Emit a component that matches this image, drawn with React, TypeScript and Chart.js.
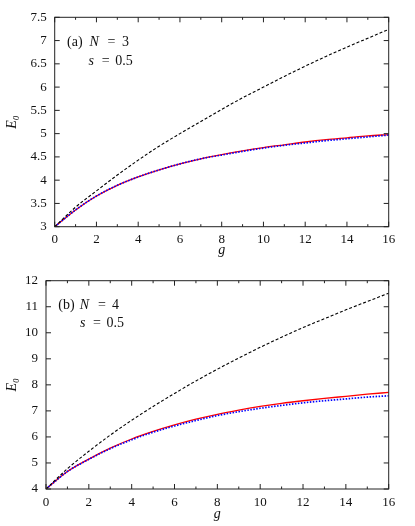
import React, { useEffect, useRef } from "react";
import { Chart, registerables } from "chart.js";

Chart.register(...registerables);

// ---------- data ----------
const gValues = [0, 1, 2, 3, 4, 5, 6, 7, 8, 9, 10, 11, 12, 13, 14, 15, 16];

// panel (a): N = 3, s = 0.5
const aBlack = [3, 3.42, 3.77, 4.11, 4.43, 4.73, 5.0, 5.26, 5.52, 5.77, 6.0, 6.23, 6.45, 6.66, 6.86, 7.05, 7.24];
const aRed = [3, 3.36, 3.66, 3.89, 4.07, 4.22, 4.35, 4.46, 4.55, 4.63, 4.7, 4.76, 4.82, 4.87, 4.91, 4.95, 4.98];
const aBlue = [3, 3.36, 3.66, 3.89, 4.07, 4.22, 4.35, 4.46, 4.54, 4.62, 4.69, 4.75, 4.8, 4.85, 4.89, 4.93, 4.97];

// panel (b): N = 4, s = 0.5
const bBlack = [4, 4.78, 5.45, 6.07, 6.64, 7.17, 7.67, 8.15, 8.6, 9.03, 9.44, 9.83, 10.2, 10.54, 10.88, 11.2, 11.52];
const bRed = [4, 4.67, 5.15, 5.57, 5.92, 6.21, 6.46, 6.68, 6.87, 7.03, 7.17, 7.29, 7.39, 7.48, 7.56, 7.64, 7.71];
const bBlue = [4, 4.67, 5.14, 5.55, 5.89, 6.18, 6.42, 6.63, 6.82, 6.97, 7.1, 7.21, 7.31, 7.39, 7.46, 7.53, 7.58];

const xMin = 0;
const xMax = 16;
const xStep = 2;

const aYMin = 3, aYMax = 7.5, aYStep = 0.5;
const bYMin = 4, bYMax = 12, bYStep = 1;

const FONT = "'Liberation Serif', 'DejaVu Serif', serif";

type Seg = { t: string; italic?: boolean; dx: number };
type AnnLine = { dy: number; segs: Seg[] };

const annA: AnnLine[] = [
  { dy: 28.7, segs: [{ t: "(a)", dx: 0 }, { t: "N", italic: true, dx: 22.6 }, { t: "=", dx: 40.5 }, { t: "3", dx: 55 }] },
  { dy: 47.5, segs: [{ t: "s", italic: true, dx: 21.6 }, { t: "=", dx: 34.8 }, { t: "0.5", dx: 48.3 }] },
];
const annB: AnnLine[] = [
  { dy: 28.2, segs: [{ t: "(b)", dx: 0 }, { t: "N", italic: true, dx: 21.5 }, { t: "=", dx: 39.6 }, { t: "4", dx: 53.8 }] },
  { dy: 46.2, segs: [{ t: "s", italic: true, dx: 21.6 }, { t: "=", dx: 34.8 }, { t: "0.5", dx: 48.3 }] },
];

const framePlugin = {
  id: "frame",
  afterDraw(chart: any, _args: any, opts: any) {
    const { ctx, chartArea: ca, scales } = chart;
    const xs = scales.x;
    const ys = scales.y;
    ctx.save();
    ctx.strokeStyle = "#222";
    ctx.lineWidth = 1;
    ctx.strokeRect(ca.left, ca.top, ca.width, ca.height);
    ctx.beginPath();
    for (let g = xs.min; g <= xs.max + 1e-9; g += 1) {
      const px = xs.getPixelForValue(g);
      const len = Math.round(g) % 2 === 0 ? 5 : 2.5;
      ctx.moveTo(px, ca.bottom);
      ctx.lineTo(px, ca.bottom - len);
      ctx.moveTo(px, ca.top);
      ctx.lineTo(px, ca.top + len);
    }
    for (const t of ys.ticks) {
      const py = ys.getPixelForValue(t.value);
      ctx.moveTo(ca.left, py);
      ctx.lineTo(ca.left + 5, py);
      ctx.moveTo(ca.right, py);
      ctx.lineTo(ca.right - 5, py);
    }
    ctx.stroke();

    // annotation text
    const lines: AnnLine[] = opts.lines || [];
    ctx.fillStyle = "#111";
    ctx.textBaseline = "alphabetic";
    ctx.textAlign = "left";
    const x0 = ca.left + 12.3;
    for (const line of lines) {
      for (const s of line.segs) {
        ctx.font = `${s.italic ? "italic " : ""}14px ${FONT}`;
        ctx.fillText(s.t, x0 + s.dx, ca.top + line.dy);
      }
    }
    ctx.restore();
  },
};

type Panel = {
  black: number[];
  red: number[];
  blue: number[];
  yMin: number;
  yMax: number;
  yStep: number;
  ann: AnnLine[];
  yWidth: number;
  xHeight: number;
  padTop: number;
  padRight: number;
  labelPad: number;
};

function toPoints(ys: number[]) {
  return gValues.map((g, i) => ({ x: g, y: ys[i] }));
}

const fmt = (v: any) => String(Math.round(Number(v) * 100) / 100);

function makeConfig(p: Panel): any {
  const common = {
    fill: false,
    pointRadius: 0,
    pointHoverRadius: 0,
    cubicInterpolationMode: "monotone",
  };
  return {
    type: "line",
    data: {
      datasets: [
        { ...common, label: "black", data: toPoints(p.black), borderColor: "#000", borderWidth: 1.1, borderDash: [3, 2] },
        { ...common, label: "blue", data: toPoints(p.blue), borderColor: "#0000ff", borderWidth: 1.7, borderDash: [1.5, 1.5] },
        { ...common, label: "red", data: toPoints(p.red), borderColor: "#ff0000", borderWidth: 1.3 },
      ],
    },
    options: {
      responsive: false,
      animation: false,
      events: [],
      layout: { padding: { top: p.padTop, right: p.padRight, left: 0, bottom: 0 } },
      plugins: {
        legend: { display: false },
        tooltip: { enabled: false },
        frame: { lines: p.ann },
      },
      scales: {
        x: {
          type: "linear",
          min: xMin,
          max: xMax,
          grid: { display: false, drawTicks: false },
          border: { display: false },
          ticks: {
            stepSize: xStep,
            color: "#111",
            font: { family: FONT, size: 13 },
            padding: p.labelPad,
            maxRotation: 0,
            autoSkip: false,
            callback: fmt,
          },
          title: {
            display: true,
            text: "g",
            color: "#111",
            font: { family: FONT, size: 14, style: "italic" },
            padding: { top: 2, bottom: 3 },
          },
          afterFit: (s: any) => {
            s.height = p.xHeight;
          },
        },
        y: {
          type: "linear",
          min: p.yMin,
          max: p.yMax,
          grid: { display: false, drawTicks: false },
          border: { display: false },
          ticks: {
            stepSize: p.yStep,
            color: "#111",
            font: { family: FONT, size: 13 },
            padding: 8,
            autoSkip: false,
            callback: fmt,
          },
          title: {
            display: true,
            text: "E₀",
            color: "#111",
            font: { family: FONT, size: 14, style: "italic" },
            padding: { top: 4, bottom: 4 },
          },
          afterFit: (s: any) => {
            s.width = p.yWidth;
          },
        },
      },
    },
    plugins: [framePlugin],
  };
}

const panelA: Panel = {
  black: aBlack, red: aRed, blue: aBlue,
  yMin: aYMin, yMax: aYMax, yStep: aYStep,
  ann: annA, yWidth: 54.7, xHeight: 35.3, padTop: 17.3, padRight: 26.3, labelPad: 5.5,
};
const panelB: Panel = {
  black: bBlack, red: bRed, blue: bBlue,
  yMin: bYMin, yMax: bYMax, yStep: bYStep,
  ann: annB, yWidth: 46, xHeight: 37, padTop: 18.7, padRight: 26.3, labelPad: 6,
};

function ChartPanel({ panel, top, height }: { panel: Panel; top: number; height: number }) {
  const ref = useRef<HTMLCanvasElement | null>(null);
  useEffect(() => {
    if (!ref.current) return;
    const chart = new Chart(ref.current, makeConfig(panel));
    return () => chart.destroy();
  }, [panel]);
  return (
    <canvas
      ref={ref}
      width={415}
      height={height}
      style={{ position: "absolute", left: 0, top, width: 415, height }}
    />
  );
}

export default function App() {
  return (
    <div style={{ position: "absolute", left: 0, top: 0, width: 415, height: 526, background: "#fff" }}>
      <ChartPanel panel={panelA} top={0} height={262} />
      <ChartPanel panel={panelB} top={262} height={264} />
    </div>
  );
}
